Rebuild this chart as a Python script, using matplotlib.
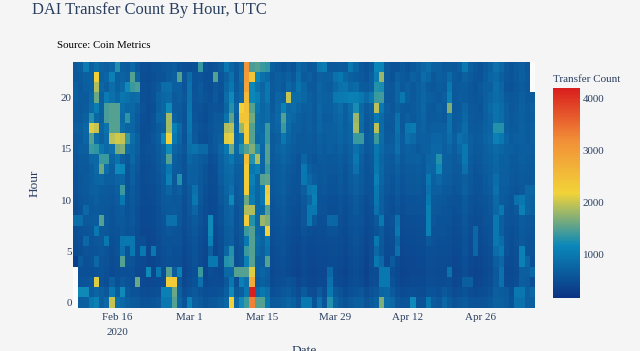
import numpy as np
import pandas as pd
import matplotlib
matplotlib.use('Agg')
import matplotlib.pyplot as plt
import matplotlib.dates as mdates
from matplotlib.colors import LinearSegmentedColormap

nan = float('nan')

# dates run Feb 8 - May 6 2020
dates = pd.date_range('2020-02-08', periods=89)
hours = list(range(24))
tick_dates = ['2020-02-16', '2020-03-01', '2020-03-15', '2020-03-29', '2020-04-12', '2020-04-26']
tick_labels = ['Feb 16\n2020', 'Mar 1', 'Mar 15', 'Mar 29', 'Apr 12', 'Apr 26']
bar_ticks = [1000, 2000, 3000, 4000]

hour_00 = [nan,680,720,1000,1100,700,800,2000,880,800,
    700,640,620,560,560,580,620,1000,1000,1500,
    760,580,1100,700,640,560,600,620,700,780,
    2200,800,1200,1400,3300,1500,1500,1000,620,640,
    680,760,700,580,1000,1000,560,900,580,1300,
    740,620,540,620,700,700,580,640,720,1700,
    880,800,600,560,580,1200,560,540,1000,660,
    600,800,660,540,600,640,580,560,540,580,
    620,720,700,660,560,900,900,700,680]
hour_01 = [nan,1200,1200,660,760,700,620,1000,640,1200,
    620,560,560,500,480,500,520,1100,1100,1600,
    680,500,560,620,560,500,520,520,540,680,
    1200,620,700,1000,4200,820,1000,880,520,560,
    600,640,560,480,640,500,480,640,500,1000,
    620,540,460,520,560,600,480,540,600,760,
    800,640,520,460,480,520,500,480,560,560,
    520,620,560,480,500,560,500,460,480,500,
    560,700,660,640,520,1000,1000,700,800]
hour_02 = [nan,560,580,620,2100,560,500,700,520,620,
    560,520,1600,440,420,440,460,500,2300,2300,
    620,420,500,560,900,420,460,480,460,620,
    1000,520,1100,900,2800,640,720,660,460,500,
    520,540,520,420,480,420,420,440,440,900,
    460,440,400,460,500,460,380,480,500,1000,
    1000,560,460,400,420,440,440,440,500,500,
    480,480,500,420,440,700,700,400,420,460,
    500,640,900,460,460,500,680,660,520]
hour_03 = [nan,520,520,520,560,560,520,460,500,520,
    520,520,440,420,1200,400,1000,480,1500,660,
    1100,400,460,520,1400,400,500,460,440,800,
    800,1500,1500,1500,2100,680,760,680,440,480,
    500,440,400,380,440,400,400,420,420,800,
    440,420,380,440,480,440,360,460,480,1000,
    1000,500,440,380,400,420,420,420,480,480,
    460,460,900,400,420,500,420,380,400,440,
    480,620,900,440,440,480,700,680,800]
hour_04 = [320,640,520,540,800,580,540,480,520,1500,
    540,540,460,440,380,400,440,500,520,500,
    500,420,480,540,460,400,1000,1000,460,1300,
    1350,500,560,1100,1500,700,700,1500,460,500,
    520,460,420,400,460,420,420,440,440,460,
    460,440,400,460,500,460,380,480,1000,800,
    440,640,460,400,420,420,440,440,500,500,
    480,480,460,420,440,520,440,400,420,460,
    500,680,800,480,460,500,1100,760,520]
hour_05 = [460,500,540,560,580,600,560,500,540,900,
    560,1000,480,1000,400,1000,460,520,540,520,
    520,440,500,560,480,420,700,400,480,780,
    1300,500,560,1400,1500,800,720,900,480,520,
    540,480,440,420,480,440,440,460,460,480,
    480,460,420,480,520,480,400,480,800,600,
    460,480,900,420,440,440,460,460,520,520,
    500,500,480,440,460,540,460,800,440,480,
    520,860,1000,560,480,520,1100,560,540]
hour_06 = [480,520,800,580,600,620,1000,520,560,960,
    1000,1000,500,500,400,420,480,540,560,540,
    540,460,520,580,500,440,1100,420,500,640,
    680,520,600,1000,1500,860,740,1000,500,540,
    560,500,460,440,500,460,460,480,480,500,
    500,480,440,500,540,500,420,480,1000,620,
    480,500,780,440,460,460,480,480,620,540,
    520,520,500,460,480,560,480,800,460,500,
    540,1000,860,560,500,540,620,580,560]
hour_07 = [500,540,580,600,1000,620,600,540,580,600,
    560,580,500,420,420,440,500,560,600,580,
    560,480,540,600,520,460,1200,440,520,660,
    700,540,620,1400,1500,800,760,2200,520,560,
    580,520,480,460,540,500,480,500,500,560,
    540,500,460,520,560,520,440,480,560,640,
    500,520,1000,460,480,480,500,500,1100,560,
    540,540,520,480,500,580,500,800,480,520,
    560,1000,680,560,520,560,640,600,580]
hour_08 = [860,860,620,640,660,1500,620,560,600,620,
    580,600,520,440,440,460,520,580,900,900,
    600,500,580,640,540,480,1200,460,540,680,
    740,560,640,2300,1300,780,1800,1700,540,580,
    600,540,500,480,600,1000,620,520,520,800,
    780,520,480,540,580,540,460,500,620,1000,
    520,540,900,480,500,500,520,520,1100,600,
    560,560,540,500,520,600,520,480,500,540,
    580,1000,700,580,540,580,660,620,600]
hour_09 = [500,560,800,620,640,620,600,580,620,660,
    560,600,520,440,440,460,520,600,620,640,
    600,500,600,760,560,480,440,460,560,700,
    760,580,640,1900,1900,800,820,1500,560,600,
    620,560,520,500,600,1000,1000,540,540,500,
    500,540,500,560,620,560,480,520,900,680,
    540,500,580,500,540,540,560,540,1100,620,
    600,580,560,520,540,620,540,500,520,560,
    600,800,1000,600,560,620,1100,760,700]
hour_10 = [520,580,600,640,680,620,620,600,660,1000,
    560,620,540,460,460,480,540,620,640,600,
    620,520,620,1000,600,500,440,460,600,720,
    1200,600,660,1600,1050,760,1000,2200,580,620,
    660,580,540,520,620,760,1100,560,560,520,
    520,560,520,580,640,580,500,540,1000,700,
    560,520,600,520,560,560,580,560,1000,640,
    620,600,580,540,560,640,560,520,540,580,
    620,820,660,620,580,900,1000,760,720]
hour_11 = [540,600,620,680,720,660,640,620,680,1400,
    560,640,560,460,480,500,560,640,760,620,
    680,540,640,900,620,520,460,480,620,760,
    900,620,680,2300,1000,780,1000,2300,600,640,
    680,600,560,540,700,1000,1050,580,600,560,
    560,600,540,620,680,620,540,560,1000,720,
    600,560,640,560,600,600,620,580,900,680,
    680,640,620,580,600,720,600,540,560,620,
    660,900,660,660,600,580,620,780,780]
hour_12 = [560,600,640,680,760,780,700,680,760,760,
    540,680,580,480,500,520,580,660,1100,620,
    1300,560,680,680,620,540,480,500,660,780,
    820,660,680,2300,1100,800,1500,1550,620,660,
    700,620,580,560,1000,800,660,600,620,580,
    580,620,560,640,720,640,560,580,1100,760,
    620,580,660,580,620,620,640,600,1000,720,
    800,680,660,600,620,700,620,560,580,640,
    680,880,680,680,620,600,640,620,620]
hour_13 = [580,620,620,700,820,1600,860,700,1200,1150,
    560,720,600,480,500,520,600,700,1000,660,
    640,540,720,700,640,560,480,520,680,820,
    860,700,700,2300,1000,1100,760,1400,620,660,
    720,640,600,560,1000,680,620,600,620,600,
    600,640,580,660,900,660,560,600,1000,780,
    640,600,700,600,640,640,660,620,800,760,
    1200,700,680,620,640,900,640,580,600,660,
    700,760,680,700,640,620,660,640,620]
hour_14 = [600,640,640,780,800,1400,1400,760,940,700,
    600,800,640,500,520,540,620,740,1500,700,
    620,560,780,720,660,620,520,560,720,860,
    1000,760,780,2500,1300,1900,780,1500,640,700,
    760,680,620,580,760,620,580,640,640,620,
    620,660,600,680,1000,700,580,620,960,760,
    660,620,760,620,680,700,720,640,760,800,
    1300,720,700,640,680,1000,660,600,620,680,
    720,780,700,720,640,640,680,660,640]
hour_15 = [620,680,700,1400,1350,1000,820,900,1650,1700,
    860,780,700,520,540,560,640,760,1200,760,
    680,600,880,940,820,820,580,620,760,1000,
    1600,820,1300,1500,1700,1300,800,1500,660,740,
    800,720,660,620,640,640,620,680,640,680,
    660,720,640,720,900,760,620,660,1000,820,
    680,680,900,660,720,680,640,680,720,800,
    800,680,760,660,800,1000,700,620,640,700,
    740,820,760,720,680,660,700,680,660]
hour_16 = [640,660,760,1500,860,720,860,1950,2050,2000,
    1400,880,720,500,520,600,680,1200,2200,1000,
    760,560,900,620,520,500,560,640,700,2100,
    2150,800,980,2300,1500,820,860,1400,640,700,
    1000,760,680,640,640,660,620,720,660,700,
    700,760,680,740,1400,1400,640,700,1400,860,
    640,660,880,660,900,820,680,720,680,760,
    760,720,860,680,900,820,680,640,660,740,
    800,1100,1000,760,660,680,720,660,700]
hour_17 = [680,700,780,2100,2000,760,920,1500,1500,880,
    760,760,640,500,500,560,660,720,1850,1100,
    820,580,960,600,540,520,580,620,640,1900,
    1950,760,1800,2300,1500,880,820,1400,700,760,
    1400,820,700,680,640,680,640,760,700,680,
    720,780,700,760,1850,820,600,680,1950,840,
    620,620,940,620,1000,1020,700,740,660,680,
    700,680,900,640,700,860,640,620,640,720,
    760,1300,1300,700,640,640,720,660,680]
hour_18 = [640,640,720,1300,780,680,1450,1500,1500,820,
    1350,780,660,520,480,540,760,760,1850,720,
    640,560,1000,580,520,480,560,620,620,940,
    1550,700,2400,2400,1650,880,780,860,700,800,
    1500,860,780,700,660,680,620,760,660,660,
    740,800,680,820,1800,860,620,700,1000,820,
    640,620,900,620,700,620,680,760,620,640,
    660,620,900,640,660,800,640,600,600,680,
    760,920,860,700,620,660,700,640,660]
hour_19 = [660,620,660,820,1050,720,1450,1500,1500,880,
    780,800,700,540,480,520,700,780,1200,640,
    640,580,960,560,540,500,540,580,540,780,
    1300,760,2200,2450,1500,960,760,860,640,780,
    1100,800,860,760,700,720,640,780,680,680,
    760,860,700,860,1250,800,640,720,1950,1000,
    680,600,720,640,620,640,700,800,640,620,
    680,640,1700,620,640,760,620,600,580,720,
    820,940,840,680,600,640,720,640,680]
hour_20 = [680,640,640,780,1600,700,1050,900,780,960,
    900,820,860,520,500,560,720,780,820,640,
    700,600,920,580,600,540,520,620,520,860,
    1200,680,800,2600,1150,1080,800,980,620,760,
    720,2000,860,860,780,700,640,740,720,700,
    1000,1020,1050,1100,1080,1000,820,1000,1400,1420,
    620,600,760,1000,680,620,680,780,700,660,
    620,680,1100,620,660,640,600,580,600,700,
    760,860,800,640,600,620,700,620,640]
hour_21 = [700,620,680,720,1900,780,700,880,720,820,
    1200,1400,1450,520,500,540,620,860,880,700,
    680,580,900,560,620,520,500,600,540,780,
    1000,640,780,2900,1150,900,760,980,640,680,
    620,800,700,940,760,640,620,760,700,660,
    780,900,950,780,840,660,640,680,1300,1250,
    640,600,760,620,680,620,700,760,640,600,
    660,640,1000,620,640,660,600,560,620,680,
    700,880,760,580,560,600,660,600,nan]
hour_22 = [620,640,720,700,2250,720,760,1100,680,740,
    700,1500,740,500,480,520,540,560,640,680,
    1500,600,860,560,580,520,520,1500,580,720,
    900,620,860,3000,2400,1150,900,820,620,700,
    640,720,600,860,640,680,600,720,680,700,
    900,1000,780,720,660,620,580,680,1050,1800,
    620,560,700,640,600,720,660,860,760,620,
    700,660,820,640,600,720,640,580,560,660,
    760,820,700,600,580,620,680,620,nan]
hour_23 = [640,700,1050,720,880,740,680,760,1280,700,
    660,800,620,520,500,560,560,600,620,660,
    560,520,500,520,1380,560,520,540,640,1000,
    760,640,820,3100,1450,1500,1400,1350,680,620,
    560,620,560,780,700,600,640,1000,1050,620,
    620,640,620,1000,760,600,560,640,1150,1120,
    640,540,560,620,560,620,700,780,860,720,
    680,620,640,620,680,1000,700,600,560,640,
    720,900,780,620,560,640,680,600,nan]

counts = np.array([hour_00, hour_01, hour_02, hour_03, hour_04, hour_05, hour_06, hour_07,
                   hour_08, hour_09, hour_10, hour_11, hour_12, hour_13, hour_14, hour_15,
                   hour_16, hour_17, hour_18, hour_19, hour_20, hour_21, hour_22, hour_23])

portland = LinearSegmentedColormap.from_list('portland', ['#0c3383', '#0a88ba', '#f2d338', '#f28f38', '#d91e1e'])
bg = '#f5f5f5'
ink = '#2a3f5f'
plt.rcParams['font.family'] = ['Liberation Serif', 'DejaVu Serif']

fig = plt.figure(figsize=(6.4, 3.51), dpi=100, facecolor=bg)
ax = fig.add_axes([73/640, 1-307.7/351, (535-73)/640, (307.7-61.7)/351])
ax.set_facecolor('#fbfbfb')
x = mdates.date2num(dates)
mesh = ax.pcolormesh(x, hours, counts, cmap=portland, vmin=170, vmax=4210, shading='nearest')

ax.set_xticks(mdates.date2num(pd.to_datetime(tick_dates)))
ax.set_xticklabels(tick_labels, linespacing=1.8)
ax.set_yticks([0, 5, 10, 15, 20])
ax.tick_params(length=0, labelsize=7.9, labelcolor=ink)
ax.tick_params(axis='x', pad=4)
ax.tick_params(axis='y', pad=1)
for s in ax.spines.values():
    s.set_visible(False)

cax = fig.add_axes([553/640, 1-298/351, 27/640, 210/351])
cb = fig.colorbar(mesh, cax=cax)
cb.set_ticks(bar_ticks)
cb.ax.tick_params(length=0, labelsize=7.9, labelcolor=ink, pad=2)
cb.outline.set_visible(False)

fig.text(32/640, 1-10.5/351, 'DAI Transfer Count By Hour, UTC', fontsize=11.9, color=ink, va='center')
fig.text(57/640, 1-45/351, 'Source: Coin Metrics', fontsize=7.8, color='black', va='center')
fig.text(553/640, 1-79.5/351, 'Transfer Count', fontsize=8, color=ink, va='center')
fig.text(35/640, 1-183/351, 'Hour', fontsize=9.6, color=ink, rotation=90, va='center', ha='center')
fig.text(304/640, 1-351/351, 'Date', fontsize=9.6, color=ink, va='center', ha='center')

fig.savefig('out.png', dpi=100, facecolor=bg)
